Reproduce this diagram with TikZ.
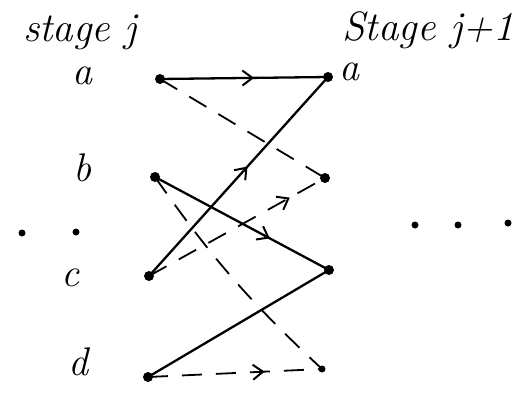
\documentclass[tikz,border=0pt]{standalone}
\usepackage{fontspec}
\usepackage{tikz}
\usetikzlibrary{arrows.meta,decorations.markings}

\begin{document}
\begin{tikzpicture}[
        x=1pt,
        y=-1pt,
        dot/.style={circle, fill, inner sep=0pt, minimum size=10pt},
        lbl/.style={font=\fontsize{40}{42}\selectfont\itshape, inner sep=1pt},
        head/.style={font=\fontsize{41}{43}\selectfont\itshape, inner sep=1pt},
        link/.style={line width=2.3pt},
        dashlink/.style={line width=1.8pt, dash pattern=on 20pt off 14pt},
        midarrow/.style={postaction={decorate},
            decoration={markings, mark=at position #1 with {\arrow{Straight Barb[length=10pt,width=15pt,line width=2pt]}}}}
    ]
        % Page size as in the reference.
        \useasboundingbox (0,0) rectangle (527,394);

        % Stage headings.
        \node[head] (hleft) at (80,32) {stage j};
        \node[head] (hright) at (428,30) {Stage j+1};

        % States of stage j (left) and stage j+1 (right).
        \node[dot] (la) at (160,79) {};
        \node[dot] (lb) at (155,177) {};
        \node[dot] (lc) at (149,276) {};
        \node[dot] (ld) at (148,377) {};
        \node[dot] (ra) at (328,77) {};
        \node[dot] (rb) at (325,178) {};
        \node[dot] (rc) at (329,270) {};
        \node[dot, minimum size=7pt] (rd) at (322,369) {};

        \node[lbl] (na) at (82,76) {a};
        \node[lbl] (nb) at (82,168) {b};
        \node[lbl] (nc) at (70,278) {c};
        \node[lbl] (nd) at (78,362) {d};
        \node[lbl, anchor=west] (nra) at (338,72) {a};

        % Dots for the states in between.
        \foreach \x/\y in {22/233, 76/232, 415/225, 458/225, 508/223}
            \fill (\x,\y) circle (3.5pt);

        % Solid transitions.
        \draw[link, midarrow=0.56] (la.center) -- (ra.center);
        \draw[link, midarrow=0.55] (lc.center) -- (ra.center);
        \draw[link, midarrow=0.66] (lb.center) -- (rc.center);
        \draw[link] (ld.center) -- (rc.center);

        % Dashed transitions.
        \draw[dashlink] (la.center) -- (rb.center);
        \draw[dashlink, midarrow=0.8] (lc.center) -- (rb.center);
        \draw[dashlink] (lb.center) to[bend right=6] (rd.center);
        \draw[dashlink, midarrow=0.67] (ld.center) -- (rd.center);

    \end{tikzpicture}
\end{document}
